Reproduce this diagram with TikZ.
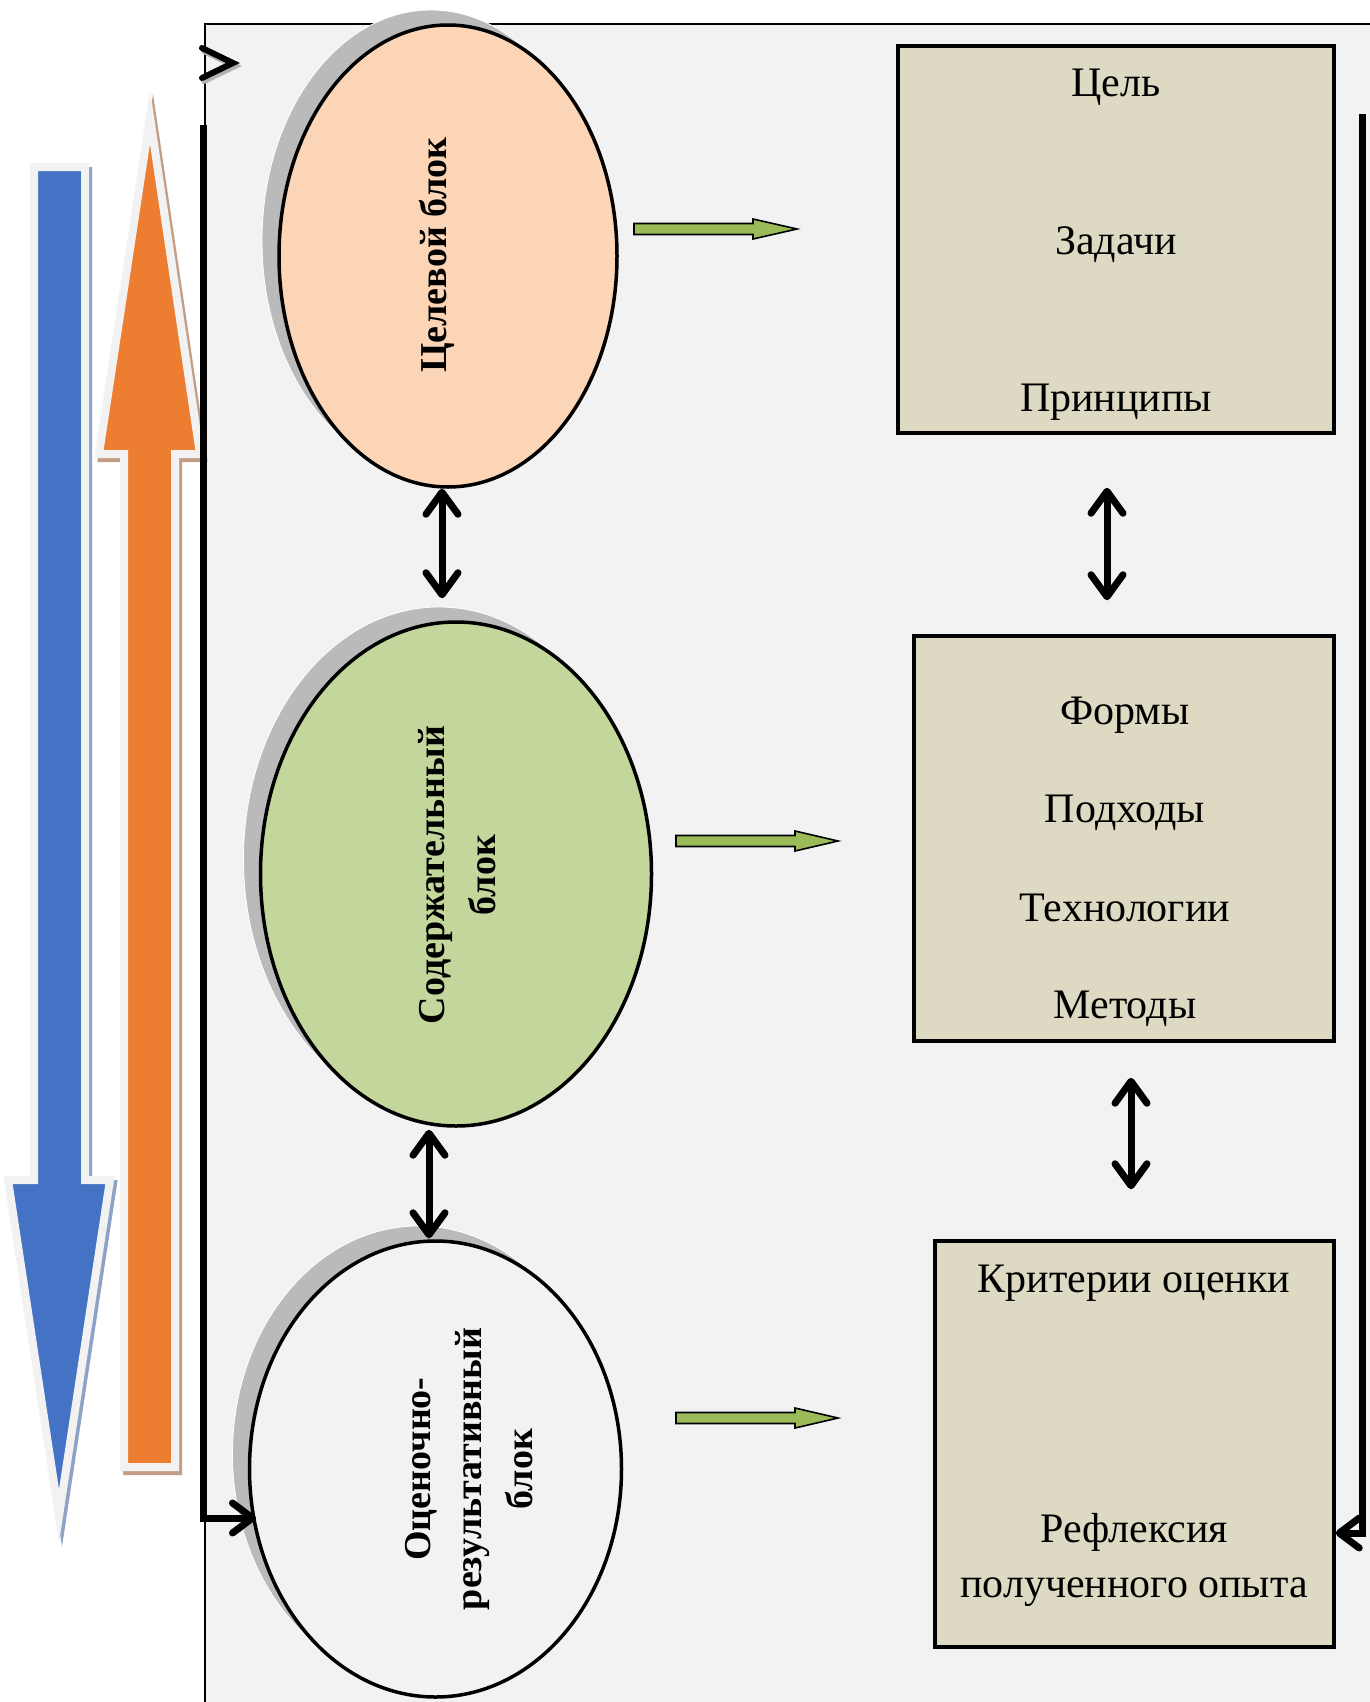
\documentclass[tikz,border=0pt]{standalone}
\usepackage{fontspec}
\setmainfont{Liberation Serif}
\usetikzlibrary{shapes.geometric,arrows.meta}
\definecolor{bgc}{HTML}{F2F2F2}
\definecolor{peach}{HTML}{FBD5B5}
\definecolor{sage}{HTML}{C3D69B}
\definecolor{boxc}{HTML}{DDD9C3}
\definecolor{shade}{HTML}{BABABA}
\definecolor{blueA}{HTML}{4472C4}
\definecolor{blueS}{HTML}{8EA2C8}
\definecolor{orangeA}{HTML}{ED7D31}
\definecolor{orangeS}{HTML}{C49E84}
\definecolor{greenA}{HTML}{9BBB59}
\begin{document}
\begin{tikzpicture}[x=0.5pt,y=-0.5pt,
  ell/.style={ellipse, draw=black, line width=1.75pt, inner sep=0pt},
  bx/.style={rectangle, draw=black, line width=1.75pt, fill=boxc, inner sep=0pt},
  btxt/.style={font=\fontsize{21pt}{25pt}\selectfont, inner sep=0pt, anchor=base},
  etxt/.style={font=\fontsize{19pt}{25.5pt}\selectfont\bfseries, rotate=90, align=center, inner sep=0pt},
  dbl/.style={line width=3.5pt, {Straight Barb[length=11pt,width=16pt,round]}-{Straight Barb[length=11pt,width=16pt,round]}},
  conn/.style={line width=3.5pt, -{Straight Barb[length=10pt,width=15pt,round]}},
  garrow/.style={fill=greenA, draw=black, line width=0.8pt, line join=miter},
  eshadow/.style={fill=shade, draw=white, line width=0.4pt},
  bigarrow/.style={line width=4pt, line join=miter}
]
\useasboundingbox (0,0) rectangle (1370,1702);
\fill[white] (0,0) rectangle (1370,1702);
\begin{scope}
\clip (0,0) rectangle (1370,1702);
\draw[fill=bgc, line width=1pt] (205,24) rectangle (1400,1740);
\end{scope}

% big blue arrow (down)
\begin{scope}[shift={(3,4)}]
\filldraw[bigarrow, fill=blueS, draw=blueS] (34,167) -- (85,167) -- (85,1180) -- (110,1180) -- (59,1516) -- (8,1180) -- (34,1180) -- cycle;
\end{scope}
\filldraw[bigarrow, fill=blueA, draw=bgc] (34,167) -- (85,167) -- (85,1180) -- (110,1180) -- (59,1516) -- (8,1180) -- (34,1180) -- cycle;

% big orange arrow (up)
\begin{scope}[shift={(3,4)}]
\filldraw[bigarrow, fill=orangeS, draw=orangeS] (124,1467) -- (124,454) -- (99,454) -- (150,117) -- (200,454) -- (175,454) -- (175,1467) -- cycle;
\end{scope}
\filldraw[bigarrow, fill=orangeA, draw=bgc] (124,1467) -- (124,454) -- (99,454) -- (150,117) -- (200,454) -- (175,454) -- (175,1467) -- cycle;

% ellipse shadows
\filldraw[eshadow] (431,241) ellipse [x radius=169, y radius=231];
\filldraw[eshadow] (439,859) ellipse [x radius=195.5, y radius=252];
\filldraw[eshadow] (418.5,1454) ellipse [x radius=186, y radius=228];

% ellipses
\node[ell, fill=peach, minimum width=169pt, minimum height=231pt] (e1) at (448,256) {};
\node[ell, fill=sage, minimum width=195.5pt, minimum height=252pt] (e2) at (456,874) {};
\node[ell, fill=bgc, minimum width=186pt, minimum height=228pt] (e3) at (435.5,1469) {};

\node[etxt] (l1) at (437,255) {Целевой блок};
\node[etxt] (l2) at (457,875) {Содержательный\\блок};
\node[etxt] (l3) at (469,1469) {Оценочно-\\результативный\\блок};

% boxes
\node[bx, minimum width=218pt, minimum height=193.5pt] (b1) at (1116,239.5) {};
\node[bx, minimum width=210pt, minimum height=202.5pt] (b2) at (1124,838.5) {};
\node[bx, minimum width=199.5pt, minimum height=203pt] (b3) at (1134.5,1444) {};

\node[btxt] (t11) at (1116,97) {Цель};
\node[btxt] (t12) at (1116,254) {Задачи};
\node[btxt] (t13) at (1116,411) {Принципы};
\node[btxt] (t21) at (1125,724) {Формы};
\node[btxt] (t22) at (1125,822) {Подходы};
\node[btxt] (t23) at (1125,921) {Технологии};
\node[btxt] (t24) at (1125,1018) {Методы};
\node[btxt] (t31) at (1134,1292) {Критерии оценки};
\node[btxt] (t32) at (1134,1542) {Рефлексия};
\node[btxt] (t33) at (1134,1597) {полученного опыта};

% double arrows
\draw[dbl] ([xshift=-3pt]e1.south) -- ([xshift=-7pt,yshift=11pt]e2.north);
\draw[dbl] ([xshift=-13.5pt,yshift=-1pt]e2.south) -- ([xshift=-3.25pt,yshift=0.5pt]e3.north);
\draw[dbl] ([xshift=-4.5pt,yshift=-26.5pt]b1.south) -- ([xshift=-8.5pt,yshift=17pt]b2.north);
\draw[dbl] ([xshift=3.5pt,yshift=-17.5pt]b2.south) -- ([xshift=-1.75pt,yshift=25pt]b3.north);

% green arrows
\draw[garrow] (634,223.5) -- (753,223.5) -- (753,219) -- (797,229) -- (753,239) -- (753,234.5) -- (634,234.5) -- cycle;
\draw[garrow] (676,835.5) -- (795,835.5) -- (795,831) -- (838,841) -- (795,851) -- (795,846.5) -- (676,846.5) -- cycle;
\draw[garrow] (676,1412.5) -- (795,1412.5) -- (795,1408) -- (838,1418) -- (795,1428) -- (795,1423.5) -- (676,1423.5) -- cycle;

% side connectors
\coordinate (lt) at (203.5,125);
\coordinate (lb) at (203.5,1518);
\coordinate (lend) at (256,1518);
\draw[conn] (lt) -- (lb) -- (lend);
\coordinate (rt) at (1362,114);
\coordinate (rb) at (1362,1533);
\draw[conn] (rt) -- (rb) -- (rb -| b3.east);

% top chevron
\draw[gray!60, line width=3pt, line cap=round, line join=miter] (204,51) -- (235,66) -- (204,81);
\coordinate (c1) at (202,48);
\coordinate (ctip) at (233,63);
\coordinate (c2) at (202,78);
\draw[black, line width=3pt, line cap=round, line join=miter] (c1) -- (ctip) -- (c2);
\end{tikzpicture}
\end{document}
